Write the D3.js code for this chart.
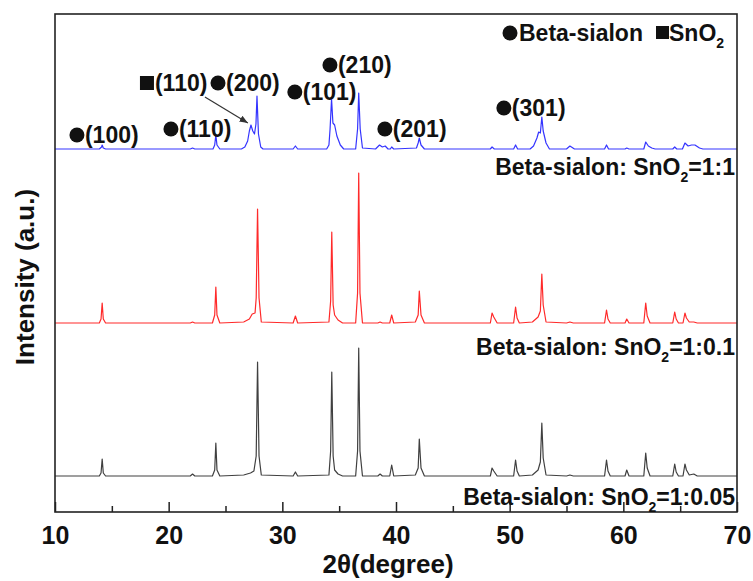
<!DOCTYPE html>
<html>
<head>
<meta charset="utf-8">
<script src="https://cdn.jsdelivr.net/npm/d3@7"></script>
<style>
  body { margin: 0; background: #fff; }
  text { font-family: "Liberation Sans", Arial, sans-serif; font-weight: bold; fill: #111; }
</style>
</head>
<body>
<svg id="chart" width="753" height="581"></svg>
<script>
// Data: [2theta, intensity a.u.], baseline ~20
const black = [
  [10.0,20],[13.9,20],[14.05,23],[14.15,37],[14.25,23],[14.45,20],
  [21.9,20],[22.1,22],[22.3,20],
  [23.85,20],[24.05,26],[24.15,53],[24.25,26],[24.5,20],
  [26.6,21],[27.2,23],[27.5,25],[27.7,40],[27.82,134],[27.95,40],[28.15,21],
  [30.95,20],[31.15,24],[31.35,20],
  [34.1,21],[34.25,45],[34.35,124],[34.47,40],[34.6,26],[34.9,22],[35.3,20],
  [36.45,20],[36.62,45],[36.72,148],[36.83,45],[37.05,20],
  [38.4,20],[38.6,22],[38.8,20],
  [39.45,20],[39.62,31],[39.8,20],
  [41.7,21],[41.95,28],[42.05,57],[42.2,28],[42.5,20],
  [48.3,20],[48.45,28],[48.6,25],[48.9,20],
  [50.35,20],[50.52,36],[50.65,25],[50.85,20],
  [52.0,21],[52.5,26],[52.7,34],[52.83,73],[52.95,38],[53.2,21],
  [55.0,20],[55.3,21],[55.6,20],
  [58.35,20],[58.52,36],[58.65,25],[58.85,20],
  [60.15,20],[60.3,26],[60.5,20],
  [61.8,20],[61.97,43],[62.1,28],[62.35,20],
  [64.35,20],[64.52,32],[64.65,24],[64.85,20],
  [65.25,20],[65.42,32],[65.55,26],[65.8,21],[66.2,22],[66.5,20],
  [70.0,20]
];

const red = [
  [10.0,20],[13.9,20],[14.05,24],[14.15,40],[14.25,24],[14.45,20],
  [21.9,20],[22.1,21],[22.3,20],
  [23.85,20],[24.05,28],[24.15,56],[24.25,28],[24.5,20],
  [26.6,21],[27.1,24],[27.35,29],[27.6,30],[27.7,45],[27.82,134],[27.95,45],[28.15,21],
  [30.95,20],[31.15,27],[31.35,20],
  [34.1,21],[34.25,42],[34.35,111],[34.47,38],[34.6,28],[34.9,23],[35.3,20],
  [36.45,20],[36.62,50],[36.72,170],[36.83,50],[37.05,20],
  [38.4,20],[38.6,21],[38.8,20],
  [39.45,20],[39.62,28],[39.8,20],
  [41.7,21],[41.95,28],[42.05,52],[42.2,28],[42.5,20],
  [48.3,20],[48.45,30],[48.6,26],[48.9,20],
  [50.35,20],[50.52,36],[50.65,25],[50.85,20],
  [52.0,21],[52.5,26],[52.7,32],[52.83,69],[52.95,38],[53.2,21],
  [55.0,20],[55.3,21],[55.6,20],
  [58.35,20],[58.52,33],[58.65,24],[58.85,20],
  [60.15,20],[60.3,24],[60.5,20],
  [61.8,20],[61.97,40],[62.1,27],[62.35,20],
  [64.35,20],[64.52,31],[64.65,24],[64.85,20],
  [65.25,20],[65.42,30],[65.55,25],[65.8,21],[66.2,21],[66.5,20],
  [70.0,20]
];

const blue = [
  [10.0,20],[13.9,20],[14.1,22],[14.15,24],[14.25,21],[14.45,20],
  [21.9,20],[22.1,21],[22.3,20],
  [23.9,20],[24.05,24],[24.15,34],[24.25,24],[24.5,20],
  [26.4,20],[26.7,22],[26.95,28],[27.1,38],[27.24,44],[27.4,38],[27.55,35],[27.68,45],[27.77,73],[27.9,35],[28.1,22],[28.3,20],
  [30.95,20],[31.15,23],[31.35,20],
  [33.9,20],[34.1,24],[34.2,40],[34.33,70],[34.45,46],[34.6,44],[34.8,33],[35.1,24],[35.4,20],
  [36.45,20],[36.62,40],[36.72,76],[36.85,40],[37.05,21],
  [38.2,20],[38.55,24],[38.8,22],[39.05,23],[39.3,20],
  [39.5,20],[39.62,22],[39.8,20],
  [41.8,21],[41.95,26],[42.05,31],[42.2,24],[42.5,20],
  [48.3,20],[48.45,22],[48.65,20],
  [50.35,20],[50.52,24],[50.7,20],
  [51.8,20],[52.1,23],[52.4,31],[52.55,37],[52.7,36],[52.83,52],[52.95,38],[53.2,26],[53.5,20],
  [55.0,20],[55.3,23],[55.7,20],
  [58.35,20],[58.52,24],[58.7,20],
  [60.15,20],[60.3,21],[60.5,20],
  [61.8,20],[61.97,27],[62.2,23],[62.5,21],[62.8,20],
  [64.35,20],[64.52,22],[64.7,20],
  [65.2,20],[65.42,26],[65.7,23],[66.0,24],[66.3,24],[66.7,21],[67.0,20],
  [70.0,20]
];

const seriesNames = ["1:0.05", "1:0.1", "1:1"];
const seriesColors = ["#404040", "#ff2a2a", "#3434ff"];
const seriesOffsets = [16, 169, 343];

const xTicks = [10, 20, 30, 40, 50, 60, 70];
const xMinorTicks = [15, 25, 35, 45, 55, 65];

// peak labels [2theta, intensity, marker, text]
const peakLabels = [
  [11.93, 377, "circle", "(100)"],
  [20.2, 383, "circle", "(110)"],
  [18.09, 429, "square", "(110)"],
  [24.34, 429, "circle", "(200)"],
  [31.1, 420, "circle", "(101)"],
  [34.19, 447, "circle", "(210)"],
  [39.02, 383, "circle", "(201)"],
  [49.49, 404, "circle", "(301)"]
];
const arrowFrom = [23.19, 415];
const arrowTo = [26.97, 389];

const svg = d3.select("#chart");
const margin = { top: 14, right: 16, bottom: 69, left: 55 };
const width = 753 - margin.left - margin.right;
const height = 581 - margin.top - margin.bottom;
const g = svg.append("g").attr("transform", `translate(${margin.left},${margin.top})`);

const x = d3.scaleLinear().domain([10, 70]).range([0, width]);
const y = d3.scaleLinear().domain([0, height]).range([height, 0]);

// arrow marker
svg.append("defs").append("marker")
  .attr("id", "arr")
  .attr("viewBox", "0 0 10 10")
  .attr("refX", 10).attr("refY", 5)
  .attr("markerWidth", 7).attr("markerHeight", 7)
  .attr("orient", "auto")
  .append("path").attr("d", "M0,1 L10,5 L0,9 Z").attr("fill", "#333");

// curves
const line = d3.line().x(d => x(d[0]));
[black, red, blue].forEach((data, i) => {
  g.append("path")
    .datum(data)
    .attr("fill", "none")
    .attr("stroke", seriesColors[i])
    .attr("stroke-width", 1.2)
    .attr("stroke-linejoin", "round")
    .attr("d", line.y(d => y(d[1] + seriesOffsets[i])));
});

// x axis, inward ticks
const xAxis = g.append("g")
  .attr("transform", `translate(0,${height})`)
  .call(d3.axisBottom(x).tickValues(xTicks).tickSize(-10).tickPadding(14).tickFormat(d3.format("d")));
xAxis.select(".domain").remove();
xAxis.selectAll("line").attr("stroke", "#222").attr("stroke-width", 1.5);
xAxis.selectAll("text").style("font-size", "25px").attr("fill", "#111");

g.append("g")
  .attr("transform", `translate(0,${height})`)
  .call(d3.axisBottom(x).tickValues(xMinorTicks).tickSize(-6).tickFormat(""))
  .call(a => a.select(".domain").remove())
  .selectAll("line").attr("stroke", "#222").attr("stroke-width", 1.5);

// frame
g.append("rect")
  .attr("width", width).attr("height", height)
  .attr("fill", "none").attr("stroke", "#222").attr("stroke-width", 1.6);

// axis titles
svg.append("text")
  .attr("x", 388).attr("y", 573)
  .attr("text-anchor", "middle")
  .style("font-size", "26px")
  .text("2θ(degree)");

svg.append("text")
  .attr("transform", "translate(34,277) rotate(-90)")
  .attr("text-anchor", "middle")
  .style("font-size", "26px")
  .text("Intensity (a.u.)");

// peak labels
peakLabels.forEach(([tx, ty, mark, label]) => {
  const px = x(tx), py = y(ty);
  if (mark === "circle") {
    g.append("circle").attr("cx", px).attr("cy", py).attr("r", 7.5).attr("fill", "#111");
  } else {
    g.append("rect").attr("x", px - 7).attr("y", py - 7).attr("width", 14).attr("height", 14).attr("fill", "#111");
  }
  g.append("text")
    .attr("x", px + 8).attr("y", py + 8)
    .style("font-size", "23px")
    .text(label);
});

g.append("line")
  .attr("x1", x(arrowFrom[0])).attr("y1", y(arrowFrom[1]))
  .attr("x2", x(arrowTo[0])).attr("y2", y(arrowTo[1]))
  .attr("stroke", "#333").attr("stroke-width", 1.2)
  .attr("marker-end", "url(#arr)");

// legend
const legend = svg.append("g");
legend.append("circle").attr("cx", 510).attr("cy", 33).attr("r", 7.5).attr("fill", "#111");
legend.append("text").attr("x", 519).attr("y", 41).style("font-size", "23px").text("Beta-sialon");
legend.append("rect").attr("x", 656).attr("y", 26).attr("width", 13).attr("height", 13).attr("fill", "#111");
const sn = legend.append("text").attr("x", 669).attr("y", 41).style("font-size", "23px");
sn.append("tspan").text("SnO");
sn.append("tspan").attr("dy", 7).style("font-size", "14px").text("2");

// sample labels
const labelY = [505, 355, 175];
seriesNames.forEach((name, i) => {
  const t = svg.append("text")
    .attr("x", 735).attr("y", labelY[i])
    .attr("text-anchor", "end")
    .style("font-size", "23px");
  t.append("tspan").text("Beta-sialon: SnO");
  t.append("tspan").attr("dy", 7).style("font-size", "14px").text("2");
  t.append("tspan").attr("dy", -7).text("=" + name);
});
</script>
</body>
</html>
